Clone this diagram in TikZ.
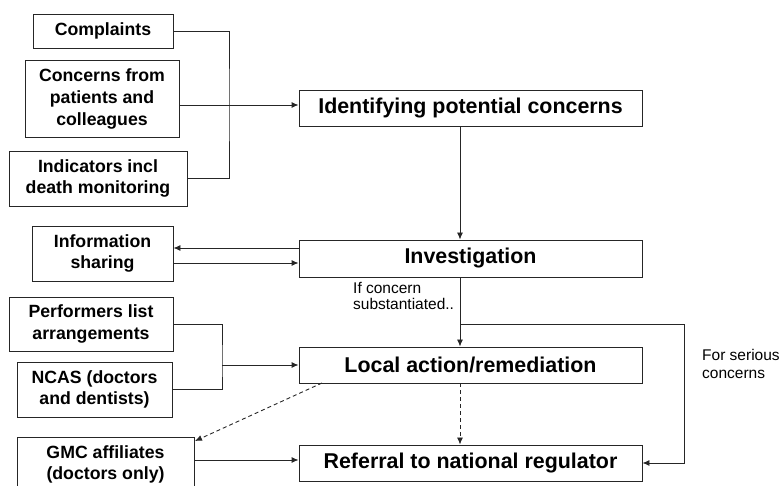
\documentclass[tikz,border=0pt]{standalone}
\usepackage{fontspec}
\setmainfont{Liberation Sans}
\usetikzlibrary{arrows.meta}
\tikzset{
  box/.style={draw=black!85, line width=0.9pt, align=center, inner sep=0pt,
    font=\bfseries\fontsize{17.7}{21.7}\selectfont},
  bigbox/.style={box, minimum width=343pt, minimum height=36pt,
    font=\bfseries\fontsize{21.4}{24}\selectfont},
  conn/.style={draw=black!85, line width=0.9pt},
  arr/.style={conn, -{Latex[length=7pt,width=6pt]}},
  darr/.style={arr, dash pattern=on 4pt off 3pt},
  lbl/.style={font=\fontsize{15.5}{16}\selectfont, align=left, inner sep=0pt}
}
\begin{document}
\begin{tikzpicture}[x=1pt,y=-1pt]
\useasboundingbox (0,0) rectangle (780,486);
\clip (0,0) rectangle (780,486);
% left boxes
\node[box, minimum width=140pt, minimum height=34pt] (compl) at (103,31) {Complaints};
\node[box, minimum width=154pt, minimum height=77pt] (conc) at (102,99) {Concerns from\\patients and\\colleagues};
\node[box, minimum width=178pt, minimum height=55pt] (indic) at (98,178.5) {Indicators incl\\death monitoring};
\node[box, minimum width=141pt, minimum height=55pt] (info) at (102.5,253.5) {Information\\sharing};
\node[box, minimum width=164pt, minimum height=54pt] (perf) at (91,324) {Performers list\\arrangements};
\node[box, minimum width=155pt, minimum height=55pt] (ncas) at (94.5,389.5) {NCAS (doctors\\and dentists)};
\node[box, minimum width=177pt, minimum height=55pt] (gmc) at (105.5,464.5) {GMC affiliates\\(doctors only)};
% main column
\node[bigbox] (ident) at (470.5,108) {Identifying potential concerns};
\node[bigbox, minimum height=37pt] (invest) at (470.5,258.5) {Investigation};
\node[bigbox] (local) at (470.5,365) {Local action/remediation};
\node[bigbox] (refer) at (470.5,463) {Referral to national regulator};
% coordinates
\coordinate (j1) at (229,105);
\coordinate (vx) at (460,0);
\coordinate (br) at (460,324);
\coordinate (rx) at (684,324);
\coordinate (j2) at (222,365);
\coordinate (dstart) at (322,383);
\coordinate (dend) at (195,441);
% connectors
\draw[conn] (compl.east) -| (j1) |- (indic.east);
\draw[arr] (conc.east |- j1) -- (ident.west |- j1);
\draw[arr] (ident.south -| vx) -- (invest.north -| vx);
\draw[arr] (invest.west |- 0,248) -- (info.east |- 0,248);
\draw[arr] (info.east |- 0,263) -- (invest.west |- 0,263);
\draw[arr] (invest.south -| vx) -- (local.north -| vx);
\draw[arr] (br) -- (rx) |- (refer.east);
\draw[conn] (perf.east) -| (j2) |- (ncas.east);
\draw[arr] (j2) -- (local.west);
\draw[darr] (local.south -| vx) -- (refer.north -| vx);
\draw[darr] (dstart) -- (dend);
\draw[arr] (gmc.east |- 0,460) -- (refer.west |- 0,460);
% labels
\node[lbl, anchor=west] (ifc) at (353,296) {If concern\\substantiated..};
\node[lbl, anchor=west, font=\fontsize{15.5}{18.5}\selectfont] (ser) at (702,364) {For serious\\concerns};
\end{tikzpicture}
\end{document}
